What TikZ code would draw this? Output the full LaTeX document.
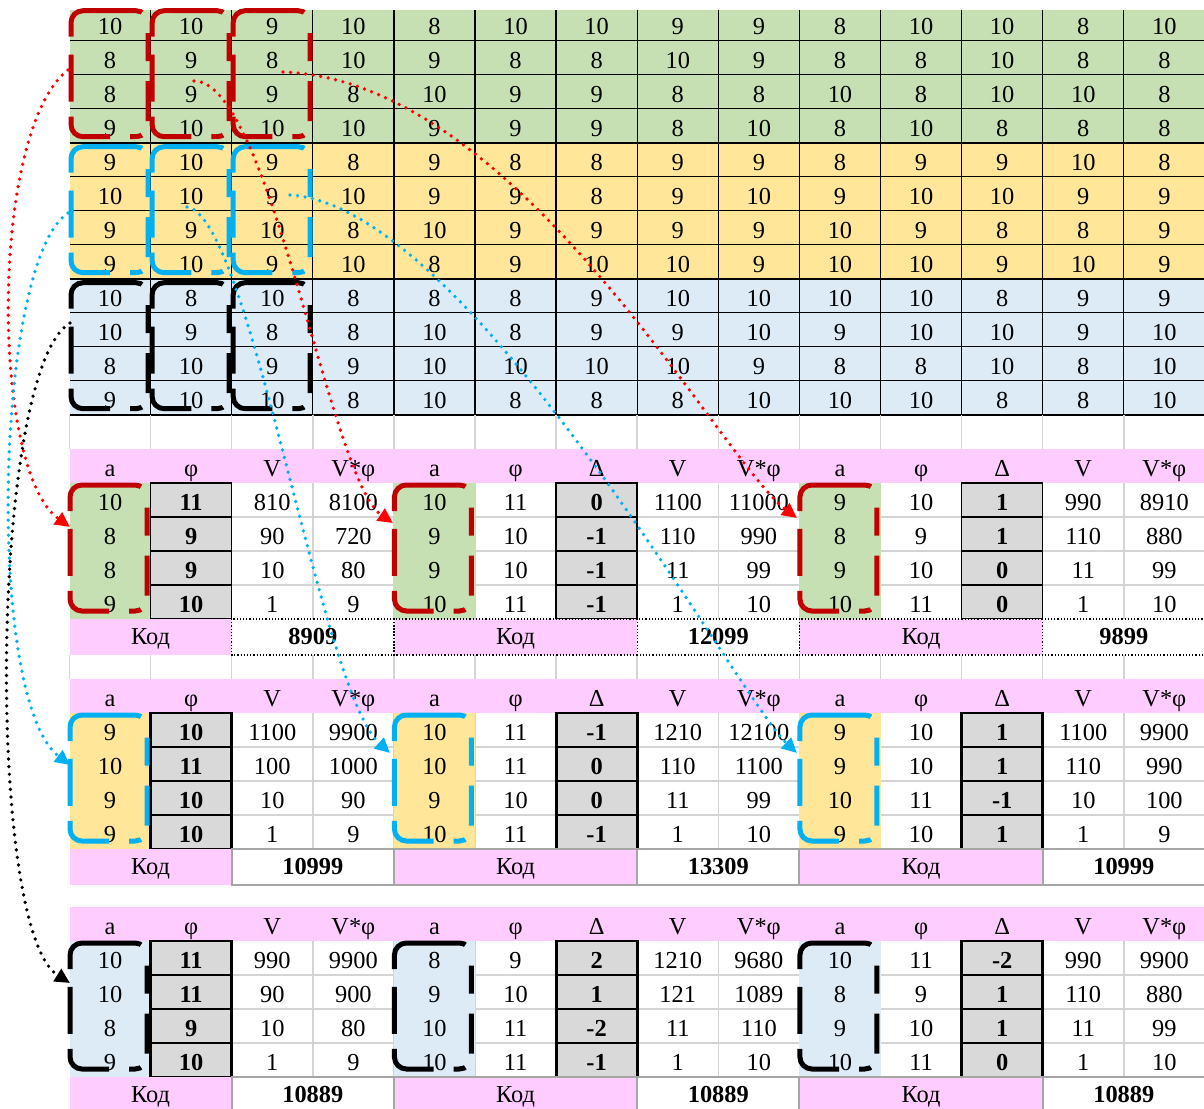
\documentclass[tikz,border=0pt]{standalone}
\usepackage{fontspec}
\setmainfont{Liberation Serif}
\usetikzlibrary{arrows.meta}
\definecolor{grn}{HTML}{C6E0B4}
\definecolor{ylw}{HTML}{FFE699}
\definecolor{blu}{HTML}{DDEBF7}
\definecolor{pnk}{HTML}{FFCCFF}
\definecolor{gry}{HTML}{D9D9D9}
\definecolor{gridc}{HTML}{D4D4D4}
\definecolor{dred}{HTML}{C00000}
\definecolor{cyn}{HTML}{00B0F0}
\tikzset{
  bracket/.pic={\draw[brk] (0,38) -- (0,0) -- (77,0) -- (77,126) -- (0,126) -- cycle;}
}

\begin{document}
\begin{tikzpicture}[x=0.5pt, y=-0.5pt,
  txt/.style={anchor=base, inner sep=0pt, font=\fontsize{12.2}{14}\selectfont},
  b0/.style={},
  b1/.style={font=\fontsize{12.2}{14}\selectfont\bfseries},
  brk/.style={line width=2.5pt, rounded corners=6pt,
    dash pattern=on 46pt off 11.5pt on 14pt off 10pt on 20pt off 8pt on 6pt off 10pt on 27pt off 7.5pt on 23.5pt off 10pt},
  link/.style={line width=1.85pt, dash pattern=on 0pt off 3.8pt, line cap=round,
    -{Triangle[length=7.5pt,width=7pt]}},
  gline/.style={draw=gridc, line width=0.75pt},
  kdot/.style={draw=black, densely dotted, line width=0.6pt},
  kgry/.style={draw=gray!70, line width=1pt}
]
\useasboundingbox (0,0) rectangle (1204,1108);
\clip (0,0) rectangle (1204,1108);

% top grid
\fill[grn] (69.5,10) rectangle (1204,142.7);
\fill[ylw] (69.5,142.7) rectangle (1204,278.7);
\fill[blu] (69.5,278.7) rectangle (1204,414.7);
\foreach \r in {1,...,11} \draw[line width=0.65pt] (69.5,{6.7+34*\r}) -- (1204,{6.7+34*\r});
\foreach \r in {4,8,12} \draw[line width=1.1pt] (69.5,{6.7+34*\r}) -- (1204,{6.7+34*\r});
\foreach \c in {1,...,14} \draw[line width=0.65pt] ({69.5+81.1*\c},10) -- ({69.5+81.1*\c},414.7);
\foreach \row [count=\r] in {
  {10,10,9,10,8,10,10,9,9,8,10,10,8,10},
  {8,9,8,10,9,8,8,10,9,8,8,10,8,8},
  {8,9,9,8,10,9,9,8,8,10,8,10,10,8},
  {9,10,10,10,9,9,9,8,10,8,10,8,8,8},
  {9,10,9,8,9,8,8,9,9,8,9,9,10,8},
  {10,10,9,10,9,9,8,9,10,9,10,10,9,9},
  {9,9,10,8,10,9,9,9,9,10,9,8,8,9},
  {9,10,9,10,8,9,10,10,9,10,10,9,10,9},
  {10,8,10,8,8,8,9,10,10,10,10,8,9,9},
  {10,9,8,8,10,8,9,9,10,9,10,10,9,10},
  {8,10,9,9,10,10,10,10,9,8,8,10,8,10},
  {9,10,10,8,10,8,8,8,10,10,10,8,8,10}}
  \foreach \v [count=\c from 0] in \row
    \node[txt] (t-\r-\c) at ({110.05+81.1*\c},{0.2+34*\r}) {\v};

% empty rows
\foreach \c in {0,...,13} {
  \draw[gline] ({69.5+81.1*\c},414.7) -- ++(0,34.3);
  \draw[gline] ({69.5+81.1*\c},655) -- ++(0,24);
}

% tables
\foreach \hy/\fc/\lw [count=\s] in {449/grn/0.75pt, 679/ylw/1.4pt, 907/blu/1.4pt} {
  \fill[pnk] (70,\hy) rectangle (1204,\hy+34);
  \foreach \j in {1,...,3} \draw[gline] (70,{\hy+34+34*\j}) -- (1204,{\hy+34+34*\j});
  \foreach \c in {1,...,13} \draw[gline] ({69.5+81.1*\c},\hy+34) -- ++(0,136);
  \foreach \c in {0,4,9} \fill[\fc] ({69.5+81.1*\c},\hy+34) rectangle ++(81.1,136);
  \foreach \c in {1,6,11} \foreach \j in {0,...,3}
    \draw[fill=gry, line width=\lw] ({69.5+81.1*\c},{\hy+34+34*\j}) rectangle ++(81.1,34);
  \foreach \h [count=\c from 0] in {a,φ,V,V*φ,a,φ,Δ,V,V*φ,a,φ,Δ,V,V*φ}
    \node[txt] (h\s-\c) at ({110.05+81.1*\c},\hy+27.5) {\h};
}
\foreach \row [count=\r] in {
  {10,11,810,8100,10,11,0,1100,11000,9,10,1,990,8910},
  {8,9,90,720,9,10,-1,110,990,8,9,1,110,880},
  {8,9,10,80,9,10,-1,11,99,9,10,0,11,99},
  {9,10,1,9,10,11,-1,1,10,10,11,0,1,10},
  {9,10,1100,9900,10,11,-1,1210,12100,9,10,1,1100,9900},
  {10,11,100,1000,10,11,0,110,1100,9,10,1,110,990},
  {9,10,10,90,9,10,0,11,99,10,11,-1,10,100},
  {9,10,1,9,10,11,-1,1,10,9,10,1,1,9},
  {10,11,990,9900,8,9,2,1210,9680,10,11,-2,990,9900},
  {10,11,90,900,9,10,1,121,1089,8,9,1,110,880},
  {8,9,10,80,10,11,-2,11,110,9,10,1,11,99},
  {9,10,1,9,10,11,-1,1,10,10,11,0,1,10}} {
  \pgfmathtruncatemacro\s{int((\r-1)/4)}
  \pgfmathsetmacro\yb{{449,679,907}[\s]+34*(\r-4*\s)+27.5}
  \foreach \v [count=\c from 0] in \row {
    \pgfmathtruncatemacro\isb{(\c==1)+(\c==6)+(\c==11)}
    \node[txt, b\isb] (d-\r-\c) at ({110.05+81.1*\c},\yb) {\v};
  }
}

% code rows
\foreach \hy/\ka/\kb/\kc/\ks [count=\s] in {449/8909/12099/9899/kdot,
    679/10999/13309/10999/kgry, 907/10889/10889/10889/kgry} {
  \fill[pnk] (70,\hy+170) rectangle (231.7,\hy+206);
  \fill[pnk] (393.9,\hy+170) rectangle (637.2,\hy+206);
  \fill[pnk] (799.4,\hy+170) rectangle (1042.7,\hy+206);
  \draw[\ks] (231.7,\hy+170) rectangle (393.9,\hy+206);
  \draw[\ks] (393.9,\hy+170) rectangle (799.4,\hy+206) (637.2,\hy+170) -- ++(0,36);
  \draw[\ks] (799.4,\hy+170) rectangle (1205,\hy+206) (1042.7,\hy+170) -- ++(0,36);
  \node[txt] (kod\s-1) at (150.6,\hy+195) {Код};
  \node[txt] (kod\s-2) at (515.55,\hy+195) {Код};
  \node[txt] (kod\s-3) at (921.05,\hy+195) {Код};
  \node[txt, b1] (kv\s-1) at (312.8,\hy+195) {\ka};
  \node[txt, b1] (kv\s-2) at (718.3,\hy+195) {\kb};
  \node[txt, b1] (kv\s-3) at (1123.8,\hy+195) {\kc};
}

% brackets
\foreach \s/\bc in {0/dred,1/cyn,2/black}
  \foreach \c in {0,1,2}
    \pic[color=\bc] at ({71+81.1*\c},{10.7+136*\s}) {bracket};
\foreach \hy/\bc in {449/dred,679/cyn,907/black}
  \foreach \c in {0,4,9}
    \pic[color=\bc] at ({70+81.1*\c},\hy+36) {bracket};

% links
\coordinate (R1) at (68,70);    \coordinate (R1-a) at (70,527);
\coordinate (R2) at (194,81);   \coordinate (R2-a) at (393,523);
\coordinate (R3) at (283,72);   \coordinate (R3-a) at (797,518);
\coordinate (C1) at (68,213);   \coordinate (C1-a) at (70,765);
\coordinate (C2) at (187,207);  \coordinate (C2-a) at (390,753);
\coordinate (C3) at (290,195);  \coordinate (C3-a) at (797,753);
\coordinate (K1) at (70,323);   \coordinate (K1-a) at (70,983);
\draw[link, red] (R1) .. controls (-10,130) and (-10,470) .. (R1-a);
\draw[link, red] (R2) .. controls (270,80) and (330,480) .. (R2-a);
\draw[link, red] (R3) .. controls (520,80) and (720,460) .. (R3-a);
\draw[link, cyn] (C1) .. controls (-5,260) and (-15,700) .. (C1-a);
\draw[link, cyn] (C2) .. controls (250,215) and (320,690) .. (C2-a);
\draw[link, cyn] (C3) .. controls (470,205) and (740,700) .. (C3-a);
\draw[link, black] (K1) .. controls (-10,370) and (-15,930) .. (K1-a);
\end{tikzpicture}
\end{document}
